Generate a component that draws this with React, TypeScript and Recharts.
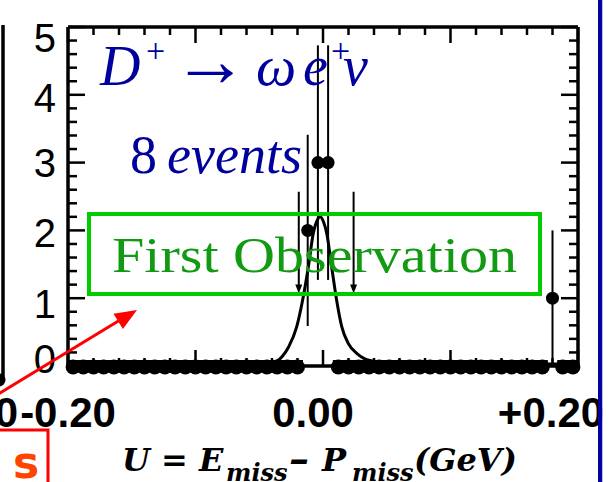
import React from 'react';
import {
  ComposedChart,
  Line,
  Scatter,
  XAxis,
  YAxis,
  ReferenceLine,
  ErrorBar,
} from 'recharts';

// histogram bins (0.008 GeV wide), counts
const binCenters = [
  -0.196, -0.188, -0.18, -0.172, -0.164, -0.156, -0.148, -0.14, -0.132, -0.124,
  -0.116, -0.108, -0.1, -0.092, -0.084, -0.076, -0.068, -0.06, -0.052, -0.044,
  -0.036, -0.028, -0.02, -0.012, -0.004, 0.004, 0.012, 0.02, 0.028, 0.036,
  0.044, 0.052, 0.06, 0.068, 0.076, 0.084, 0.092, 0.1, 0.108, 0.116,
  0.124, 0.132, 0.14, 0.148, 0.156, 0.164, 0.172, 0.18, 0.188, 0.196,
];
const binCounts = [
  0, 0, 0, 0, 0, 0, 0, 0, 0, 0,
  0, 0, 0, 0, 0, 0, 0, 0, 0, 0,
  0, 0, 0, 2, 3, 3, 0, 0, 0, 0,
  0, 0, 0, 0, 0, 0, 0, 0, 0, 0,
  0, 0, 0, 0, 0, 0, 0, 1, 0, 0,
];
const binErrors = [
  0, 0, 0, 0, 0, 0, 0, 0, 0, 0,
  0, 0, 0, 0, 0, 0, 0, 0, 0, 0,
  0, 0, 0, 1.41, 1.73, 1.73, 0, 0, 0, 0,
  0, 0, 0, 0, 0, 0, 0, 0, 0, 0,
  0, 0, 0, 0, 0, 0, 0, 1.0, 0, 0,
];

// fitted signal shape
const fitX = [
  -0.2, -0.1, -0.06, -0.045, -0.039, -0.032, -0.027, -0.0206, -0.016, -0.0115,
  -0.0076, -0.0045, -0.0024, 0.0005, 0.0029, 0.0068, 0.0107, 0.0147, 0.0199,
  0.0269, 0.0369, 0.05, 0.07, 0.1, 0.2,
];
const fitY = [
  0.03, 0.03, 0.03, 0.04, 0.05, 0.14, 0.28, 0.58, 0.97, 1.46,
  1.96, 2.15, 2.2, 2.12, 1.96, 1.46, 0.97, 0.58, 0.33,
  0.18, 0.08, 0.05, 0.04, 0.03, 0.03,
];

// signal region cut arrows
const cutPositions = [-0.019, 0.024];
const cutTop = 2.57;
const cutTip = 1.07;

const xTickValues = [-0.2, 0, 0.2];
const xTickLabels = ['-0.20', '0.00', '+0.20'];
const xMajorTicks = [-0.2, -0.1, 0, 0.1, 0.2];
const xMinorTicks = [
  -0.18, -0.16, -0.14, -0.12, -0.08, -0.06, -0.04, -0.02,
  0.02, 0.04, 0.06, 0.08, 0.12, 0.14, 0.16, 0.18,
];
const yTickValues = [0, 1, 2, 3, 4, 5];
const yTickLabels = ['0', '1', '2', '3', '4', '5'];
const yMinorTicks = [
  0.2, 0.4, 0.6, 0.8, 1.2, 1.4, 1.6, 1.8, 2.2, 2.4, 2.6, 2.8,
  3.2, 3.4, 3.6, 3.8, 4.2, 4.4, 4.6, 4.8,
];

const zeroPoints = binCenters
  .map((x, i) => ({ x, y: binCounts[i], err: binErrors[i] }))
  .filter((p) => p.y === 0);
const eventPoints = binCenters
  .map((x, i) => ({ x, y: binCounts[i], err: binErrors[i] }))
  .filter((p) => p.y > 0);
const fitData = fitX.map((x, i) => ({ x, y: fitY[i] }));

const xLabelShift = [0, -10, -27];
const yLabelDy = [7, 20, 17, 14.5, 17, 25];

const XTick = (props: any) => {
  const { x, y, payload } = props;
  const i = xTickValues.indexOf(payload.value);
  if (i < 0) return <g />;
  return (
    <text
      x={x + xLabelShift[i]}
      y={y + 61}
      textAnchor="middle"
      fontFamily="Liberation Sans"
      fontWeight="bold"
      fontSize={42}
      fill="#000"
    >
      {xTickLabels[i]}
    </text>
  );
};

const YTick = (props: any) => {
  const { x, y, payload } = props;
  const i = yTickValues.indexOf(payload.value);
  if (i < 0) return <g />;
  return (
    <text
      x={x - 12}
      y={y + yLabelDy[i]}
      textAnchor="end"
      fontFamily="Liberation Sans"
      fontSize={40}
      fill="#000"
    >
      {yTickLabels[i]}
    </text>
  );
};

const vTicks = (len: number) => (p: any) => {
  if (p.x1 == null) return <g />;
  const top = Math.min(p.y1, p.y2);
  const bot = Math.max(p.y1, p.y2);
  return (
    <g stroke="#000" strokeWidth={2.5}>
      <line x1={p.x1} y1={top} x2={p.x1} y2={top + len} />
      <line x1={p.x1} y1={bot} x2={p.x1} y2={bot - len} />
    </g>
  );
};

const hTicks = (len: number) => (p: any) => {
  if (p.y1 == null) return <g />;
  const left = Math.min(p.x1, p.x2);
  const right = Math.max(p.x1, p.x2);
  return (
    <g stroke="#000" strokeWidth={2.5}>
      <line x1={left} y1={p.y1} x2={left + len} y2={p.y1} />
      <line x1={right} y1={p.y1} x2={right - len} y2={p.y1} />
    </g>
  );
};

const CutArrow = (p: any) => {
  if (p.x1 == null) return <g />;
  const x = p.x1;
  const top = Math.min(p.y1, p.y2);
  const tip = Math.max(p.y1, p.y2);
  return (
    <g>
      <line x1={x} y1={top} x2={x} y2={tip - 6} stroke="#000" strokeWidth={2} />
      <polygon
        points={`${x - 3.5},${tip - 9} ${x + 3.5},${tip - 9} ${x},${tip}`}
        fill="#000"
      />
    </g>
  );
};

const BigDot = (p: any) => <circle cx={p.cx} cy={p.cy} r={6.5} fill="#000" />;
// empty bins: dot plus its bin-width bar, which merge into a thick row
const ZeroDot = (p: any) => (
  <g fill="#000">
    <circle cx={p.cx} cy={p.cy + 1} r={7.5} />
    <rect x={p.cx - 5.5} y={p.cy - 6} width={11} height={3} />
  </g>
);

const blue = '#00009c';

export default function App() {
  return (
    <div
      style={{
        position: 'absolute',
        left: 0,
        top: 0,
        width: 613,
        height: 482,
        background: '#fff',
        overflow: 'hidden',
      }}
    >
      <ComposedChart
        width={613}
        height={482}
        margin={{ top: 27, right: 35, bottom: 0, left: 0 }}
      >
        <XAxis
          dataKey="x"
          type="number"
          domain={[-0.2, 0.2]}
          ticks={xTickValues}
          height={116}
          tickSize={0}
          tickMargin={0}
          tickLine={false}
          axisLine={{ stroke: '#000', strokeWidth: 3.5 }}
          tick={<XTick />}
          interval={0}
        />
        <YAxis
          type="number"
          domain={[0, 5]}
          ticks={yTickValues}
          width={68}
          tickSize={0}
          tickMargin={0}
          tickLine={false}
          axisLine={{ stroke: '#000', strokeWidth: 3.5 }}
          tick={<YTick />}
          interval={0}
        />
        <ReferenceLine y={5} stroke="#000" strokeWidth={3.5} />
        <ReferenceLine x={0.2} stroke="#000" strokeWidth={3.5} />
        {xMajorTicks.map((v) => (
          <ReferenceLine key={'xM' + v} x={v} shape={vTicks(16)} />
        ))}
        {xMinorTicks.map((v) => (
          <ReferenceLine key={'xm' + v} x={v} shape={vTicks(8)} />
        ))}
        {yTickValues.map((v) => (
          <ReferenceLine key={'yM' + v} y={v} shape={hTicks(17)} />
        ))}
        {yMinorTicks.map((v) => (
          <ReferenceLine key={'ym' + v} y={v} shape={hTicks(9)} />
        ))}
        {cutPositions.map((c) => (
          <ReferenceLine
            key={'cut' + c}
            segment={[
              { x: c, y: cutTop },
              { x: c, y: cutTip },
            ]}
            shape={CutArrow}
          />
        ))}
        <Line
          data={fitData}
          dataKey="y"
          type="monotone"
          stroke="#000"
          strokeWidth={3}
          dot={false}
          activeDot={false}
          isAnimationActive={false}
        />
        <Scatter
          data={zeroPoints}
          dataKey="y"
          shape={ZeroDot}
          isAnimationActive={false}
        />
        <Scatter
          data={eventPoints}
          dataKey="y"
          shape={BigDot}
          isAnimationActive={false}
        >
          <ErrorBar
            dataKey="err"
            direction="y"
            width={0}
            stroke="#000"
            strokeWidth={2}
            isAnimationActive={false}
          />
        </Scatter>
      </ComposedChart>

      <svg
        width={613}
        height={482}
        style={{ position: 'absolute', left: 0, top: 0, pointerEvents: 'none' }}
      >
        {/* edge of the neighbouring panel */}
        <line x1={3} y1={25} x2={3} y2={378} stroke="#000" strokeWidth={3.5} />
        <circle cx={-1} cy={380} r={6.5} fill="#000" />
        <text
          x={18}
          y={427}
          textAnchor="end"
          fontFamily="Liberation Sans"
          fontWeight="bold"
          fontSize={42}
          fill="#000"
        >
          0.20
        </text>

        {/* decay label */}
        <g fontFamily="Liberation Serif" fill={blue}>
          <text x={100} y={85} fontSize={56} fontStyle="italic">D</text>
          <text x={146} y={62} fontSize={34}>+</text>
          <text x={172} y={86} fontSize={76}>→</text>
          <text x={256} y={85} fontSize={57} fontStyle="italic">ω</text>
          <text x={303} y={85} fontSize={56} fontStyle="italic">e</text>
          <text x={331} y={62} fontSize={34}>+</text>
          <text x={343} y={85} fontSize={56} fontStyle="italic">ν</text>
          <text x={130} y={173} fontSize={54}>8</text>
          <text x={167} y={173} fontSize={54} fontStyle="italic">events</text>
        </g>

        {/* first observation box */}
        <rect
          x={89}
          y={214}
          width={451}
          height={80}
          fill="none"
          stroke="#00cc00"
          strokeWidth={4}
        />
        <text
          x={112}
          y={272}
          fontFamily="Liberation Serif"
          fontSize={50}
          fill="#139a13"
          textLength={405}
          lengthAdjust="spacingAndGlyphs"
        >
          First Observation
        </text>

        {/* red arrow and box */}
        <line x1={-5} y1={396} x2={120} y2={320} stroke="#ff0000" strokeWidth={3} />
        <polygon points="137,310 113.5,313.7 122.9,329.1" fill="#ff0000" />
        <rect x={-5} y={430} width={53} height={80} fill="none" stroke="#ff0000" strokeWidth={3} />
        <text
          x={13}
          y={478}
          fontFamily="DejaVu Sans"
          fontWeight="bold"
          fontSize={44}
          fill="#ff4400"
        >
          s
        </text>

        {/* axis title */}
        <g fontFamily="DejaVu Serif" fontWeight="bold" fontStyle="italic" fill="#000">
          <text x={122} y={471} fontSize={32}>U = E</text>
          <text x={226} y={481} fontSize={24}>miss</text>
          <text x={289} y={472} fontSize={40}>–</text>
          <text x={322} y={471} fontSize={32}>P</text>
          <text x={352} y={481} fontSize={24}>miss</text>
          <text x={414} y={471} fontSize={32}>(GeV)</text>
        </g>

        {/* slide border */}
        <rect x={598} y={0} width={4.5} height={482} fill="#0000a0" />
        <rect x={602.5} y={0} width={11} height={482} fill="#fff" />
      </svg>
    </div>
  );
}
